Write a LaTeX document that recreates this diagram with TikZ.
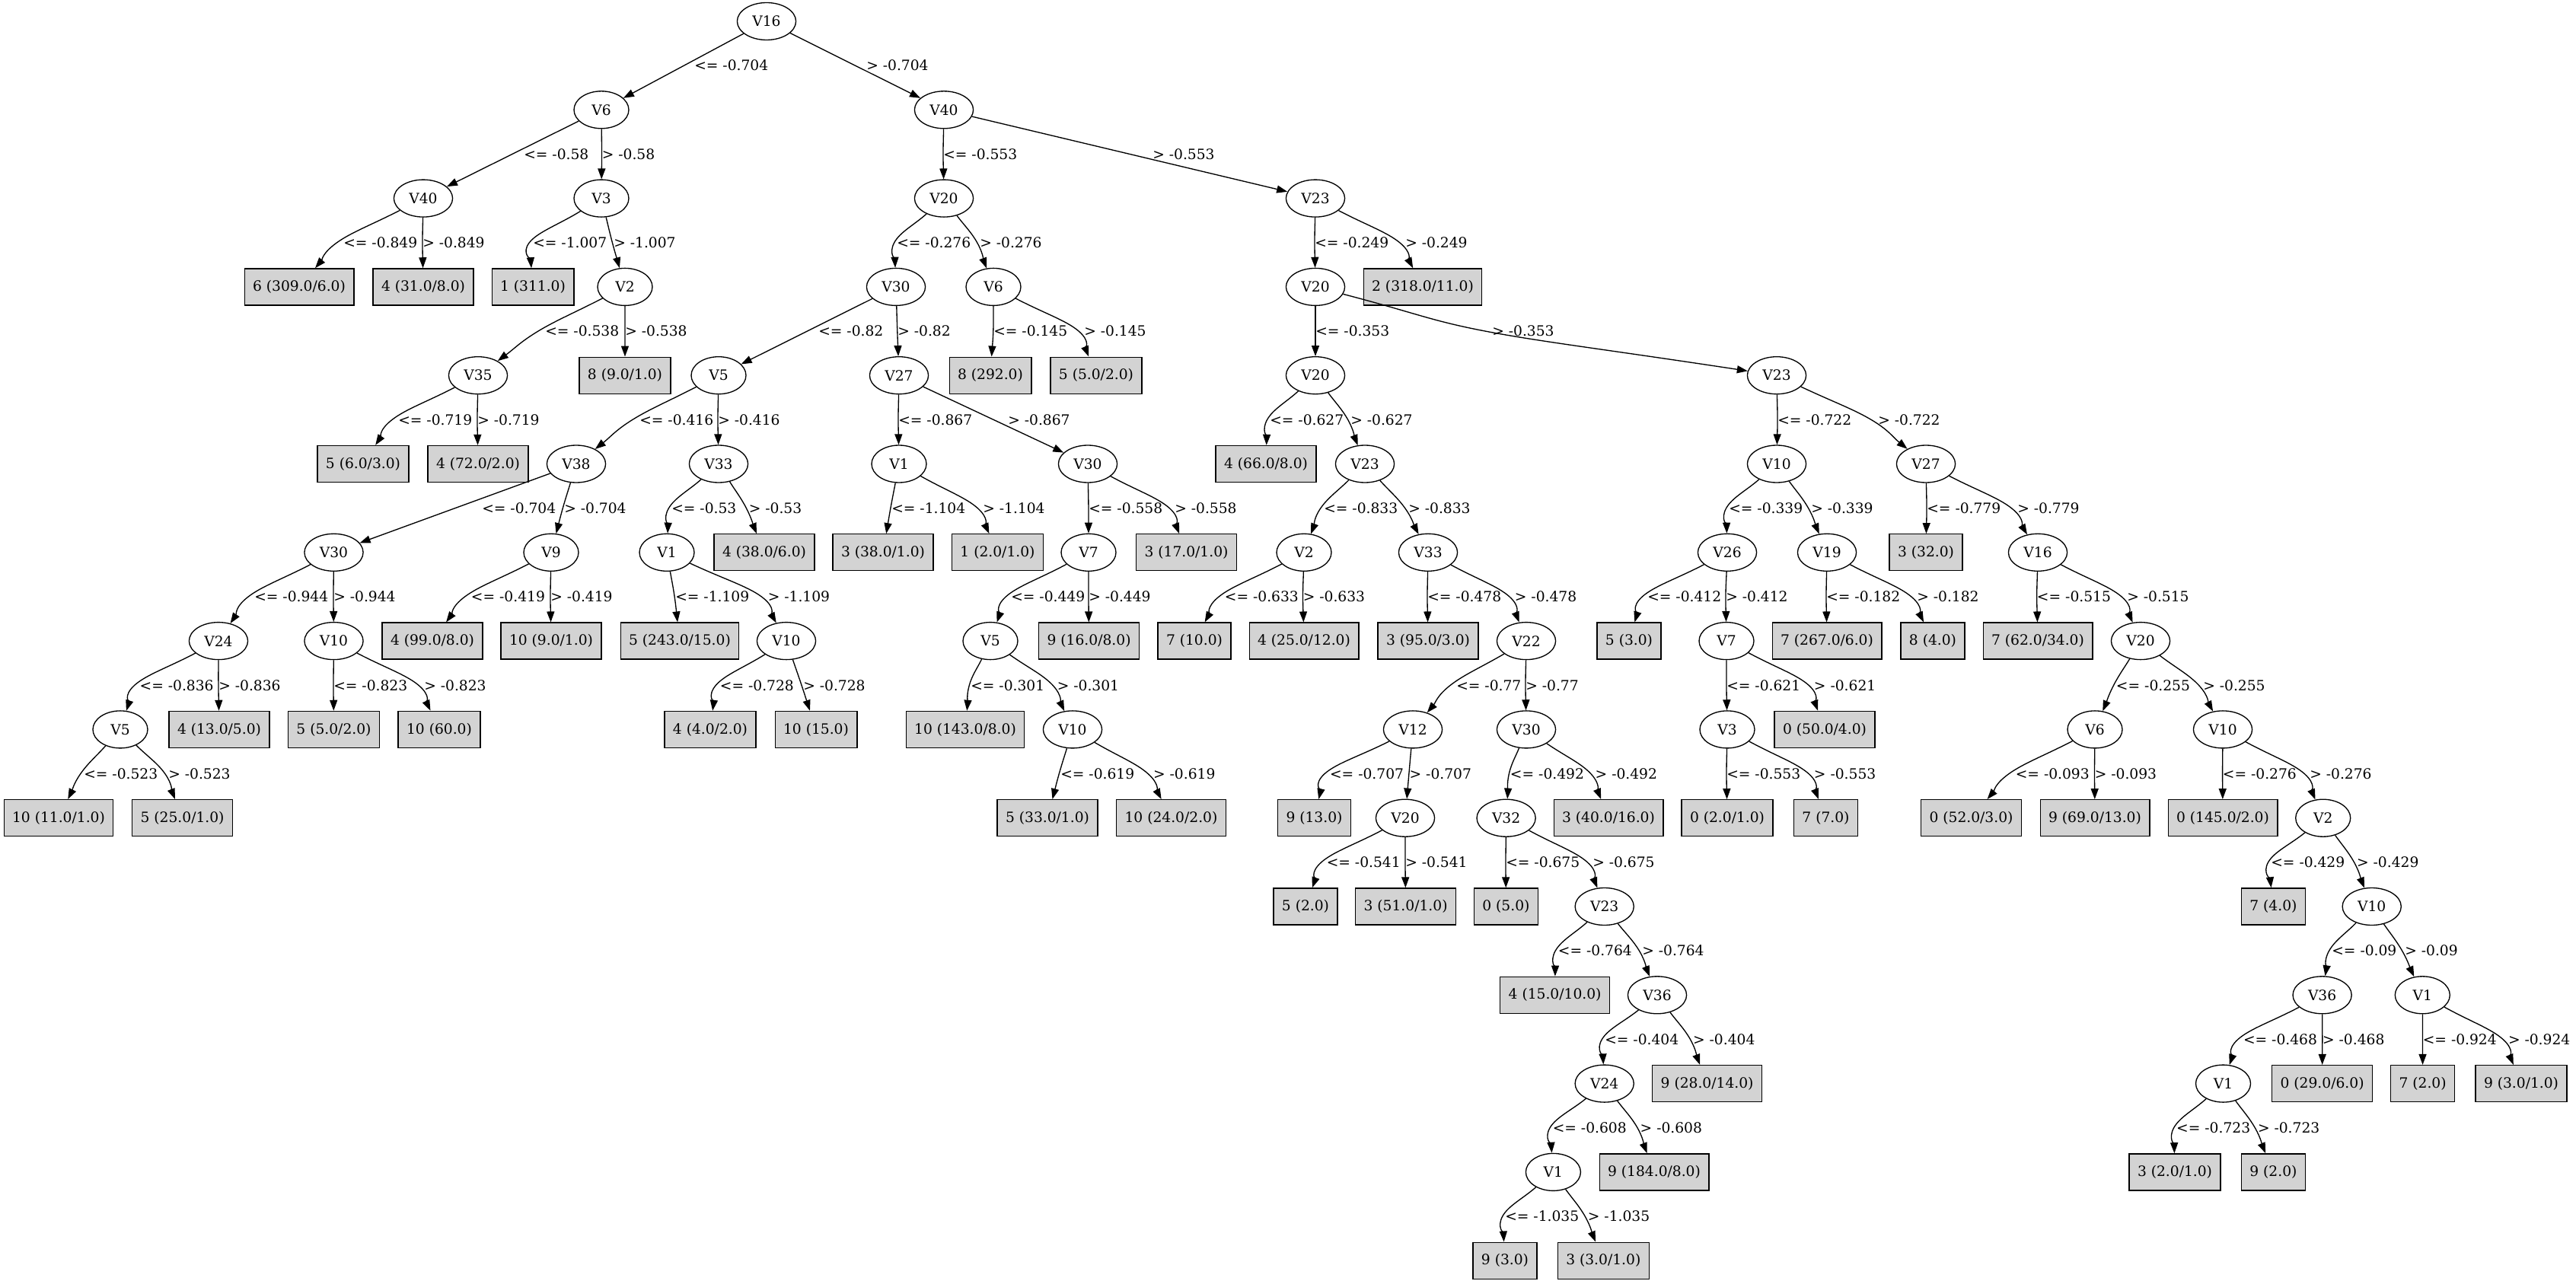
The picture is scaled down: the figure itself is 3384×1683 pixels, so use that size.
\documentclass[tikz,border=0pt]{standalone}
\usepackage{fontspec}
\setmainfont{DejaVu Serif}
\usetikzlibrary{shapes.geometric,arrows.meta,calc}
\definecolor{leafgray}{RGB}{211,211,211}

% curved branch: passes just left of its condition label, placed on the middle rank
% #1 parent, #2 child, #3 label x, #4 parent rank, #5 condition text
\newcommand\treebranch[5]{%
  \path let \p1=(#1), \p2=(#2),
    \n1={min(1.5+0.0516*abs(\x2-\x1),8.25)} in
    ({#3*0.75pt-\n1},{-(86.15+116.3*#4)*0.75pt}) coordinate (m);
  \draw[branch] (#1) .. controls ($(#1)!0.6!(m)$) and ($(m)-0.12*(#2)+0.12*(#1)$) .. (m)
    .. controls ($(m)+0.12*(#2)-0.12*(#1)$) and ($(#2)!0.6!(m)$) .. (#2);
  \node[cutlabel] at ({#3*0.75pt-1.5pt},{-(86.15+116.3*#4)*0.75pt}) {#5};
}
% straight branch with its condition label
\newcommand\treeline[5]{%
  \draw[branch] (#1) -- (#2);
  \node[cutlabel] at ({#3*0.75pt-1.5pt},{-(86.15+116.3*#4)*0.75pt}) {#5};
}

\begin{document}
\begin{tikzpicture}[x=0.75pt,y=-0.75pt,
  splitnode/.style={ellipse, draw, line width=1pt, fill=white,
    minimum width=54pt, minimum height=36.75pt, inner xsep=6.5pt, inner ysep=1pt,
    font=\fontsize{14}{16}\selectfont},
  leafnode/.style={rectangle, draw, line width=1pt, fill=leafgray,
    minimum height=36pt, inner xsep=8.2pt, inner ysep=1pt,
    font=\fontsize{14}{16}\selectfont},
  branch/.style={draw, line width=1pt, -{Triangle[length=10.5pt,width=7.5pt]}},
  cutlabel/.style={anchor=west, inner sep=0pt, font=\fontsize{14}{16}\selectfont}]

\fill[white] (0,0) rectangle (3384,1683);
\useasboundingbox (0,0) rectangle (3384,1683);

% ---- split nodes ----
\node[splitnode] (n0) at (1007,28) {V16};
\node[splitnode] (n1) at (790,144.3) {V6};
\node[splitnode] (n2) at (1240,144.3) {V40};
\node[splitnode] (n3) at (556,260.6) {V40};
\node[splitnode] (n4) at (790,260.6) {V3};
\node[splitnode] (n5) at (1240,260.6) {V20};
\node[splitnode] (n6) at (1728,260.6) {V23};
\node[splitnode] (n7) at (821,376.9) {V2};
\node[splitnode] (n8) at (1177,376.9) {V30};
\node[splitnode] (n9) at (1305,376.9) {V6};
\node[splitnode] (n10) at (1728,376.9) {V20};
\node[splitnode] (n11) at (628,493.2) {V35};
\node[splitnode] (n12) at (944,493.2) {V5};
\node[splitnode] (n13) at (1181,493.2) {V27};
\node[splitnode] (n14) at (1728,493.2) {V20};
\node[splitnode] (n15) at (2334,493.2) {V23};
\node[splitnode] (n16) at (757,609.5) {V38};
\node[splitnode] (n17) at (944,609.5) {V33};
\node[splitnode] (n18) at (1181,609.5) {V1};
\node[splitnode] (n19) at (1429,609.5) {V30};
\node[splitnode] (n20) at (1793,609.5) {V23};
\node[splitnode] (n21) at (2334,609.5) {V10};
\node[splitnode] (n22) at (2530,609.5) {V27};
\node[splitnode] (n23) at (438.5,725.8) {V30};
\node[splitnode] (n24) at (724,725.8) {V9};
\node[splitnode] (n25) at (876,725.8) {V1};
\node[splitnode] (n26) at (1430,725.8) {V7};
\node[splitnode] (n27) at (1713,725.8) {V2};
\node[splitnode] (n28) at (1876,725.8) {V33};
\node[splitnode] (n29) at (2269,725.8) {V26};
\node[splitnode] (n30) at (2400,725.8) {V19};
\node[splitnode] (n31) at (2677,725.8) {V16};
\node[splitnode] (n32) at (287,842.1) {V24};
\node[splitnode] (n33) at (438.5,842.1) {V10};
\node[splitnode] (n34) at (1033,842.1) {V10};
\node[splitnode] (n35) at (1301,842.1) {V5};
\node[splitnode] (n36) at (2005,842.1) {V22};
\node[splitnode] (n37) at (2268,842.1) {V7};
\node[splitnode] (n38) at (2812,842.1) {V20};
\node[splitnode] (n39) at (158,958.4) {V5};
\node[splitnode] (n40) at (1409,958.4) {V10};
\node[splitnode] (n41) at (1856,958.4) {V12};
\node[splitnode] (n42) at (2005,958.4) {V30};
\node[splitnode] (n43) at (2269,958.4) {V3};
\node[splitnode] (n44) at (2752,958.4) {V6};
\node[splitnode] (n45) at (2920,958.4) {V10};
\node[splitnode] (n46) at (1846,1074.7) {V20};
\node[splitnode] (n47) at (1978.6,1074.7) {V32};
\node[splitnode] (n48) at (3051.7,1074.7) {V2};
\node[splitnode] (n49) at (2107.7,1191) {V23};
\node[splitnode] (n50) at (3115.7,1191) {V10};
\node[splitnode] (n51) at (2177,1307.3) {V36};
\node[splitnode] (n52) at (3050.6,1307.3) {V36};
\node[splitnode] (n53) at (3182.3,1307.3) {V1};
\node[splitnode] (n54) at (2107.7,1423.6) {V24};
\node[splitnode] (n55) at (2920.5,1423.6) {V1};
\node[splitnode] (n56) at (2040.4,1539.9) {V1};

% ---- leaves ----
\node[leafnode] (l1) at (393,376.9) {6 (309.0/6.0)};
\node[leafnode] (l2) at (556,376.9) {4 (31.0/8.0)};
\node[leafnode] (l3) at (700,376.9) {1 (311.0)};
\node[leafnode] (l4) at (1869,376.9) {2 (318.0/11.0)};
\node[leafnode] (l5) at (821,493.2) {8 (9.0/1.0)};
\node[leafnode] (l6) at (1301,493.2) {8 (292.0)};
\node[leafnode] (l7) at (1440,493.2) {5 (5.0/2.0)};
\node[leafnode] (l8) at (477,609.5) {5 (6.0/3.0)};
\node[leafnode] (l9) at (628,609.5) {4 (72.0/2.0)};
\node[leafnode] (l10) at (1663,609.5) {4 (66.0/8.0)};
\node[leafnode] (l11) at (1004,725.8) {4 (38.0/6.0)};
\node[leafnode] (l12) at (1160,725.8) {3 (38.0/1.0)};
\node[leafnode] (l13) at (1310.5,725.8) {1 (2.0/1.0)};
\node[leafnode] (l14) at (1558.5,725.8) {3 (17.0/1.0)};
\node[leafnode] (l15) at (2530,725.8) {3 (32.0)};
\node[leafnode] (l16) at (568,842.1) {4 (99.0/8.0)};
\node[leafnode] (l17) at (724,842.1) {10 (9.0/1.0)};
\node[leafnode] (l18) at (893,842.1) {5 (243.0/15.0)};
\node[leafnode] (l19) at (1430.6,842.1) {9 (16.0/8.0)};
\node[leafnode] (l20) at (1569,842.1) {7 (10.0)};
\node[leafnode] (l21) at (1713,842.1) {4 (25.0/12.0)};
\node[leafnode] (l22) at (1876,842.1) {3 (95.0/3.0)};
\node[leafnode] (l23) at (2140,842.1) {5 (3.0)};
\node[leafnode] (l24) at (2400,842.1) {7 (267.0/6.0)};
\node[leafnode] (l25) at (2539,842.1) {8 (4.0)};
\node[leafnode] (l26) at (2677,842.1) {7 (62.0/34.0)};
\node[leafnode] (l27) at (288,958.4) {4 (13.0/5.0)};
\node[leafnode] (l28) at (438.5,958.4) {5 (5.0/2.0)};
\node[leafnode] (l29) at (577,958.4) {10 (60.0)};
\node[leafnode] (l30) at (933,958.4) {4 (4.0/2.0)};
\node[leafnode] (l31) at (1072,958.4) {10 (15.0)};
\node[leafnode] (l32) at (1268,958.4) {10 (143.0/8.0)};
\node[leafnode] (l33) at (2397,958.4) {0 (50.0/4.0)};
\node[leafnode] (l34) at (77,1074.7) {10 (11.0/1.0)};
\node[leafnode] (l35) at (239.6,1074.7) {5 (25.0/1.0)};
\node[leafnode] (l36) at (1376,1074.7) {5 (33.0/1.0)};
\node[leafnode] (l37) at (1538.5,1074.7) {10 (24.0/2.0)};
\node[leafnode] (l38) at (1726.5,1074.7) {9 (13.0)};
\node[leafnode] (l39) at (2113,1074.7) {3 (40.0/16.0)};
\node[leafnode] (l40) at (2269,1074.7) {0 (2.0/1.0)};
\node[leafnode] (l41) at (2398.5,1074.7) {7 (7.0)};
\node[leafnode] (l42) at (2589.5,1074.7) {0 (52.0/3.0)};
\node[leafnode] (l43) at (2752,1074.7) {9 (69.0/13.0)};
\node[leafnode] (l44) at (2920,1074.7) {0 (145.0/2.0)};
\node[leafnode] (l45) at (1715,1191) {5 (2.0)};
\node[leafnode] (l46) at (1846.6,1191) {3 (51.0/1.0)};
\node[leafnode] (l47) at (1978.4,1191) {0 (5.0)};
\node[leafnode] (l48) at (2986.4,1191) {7 (4.0)};
\node[leafnode] (l49) at (2042.6,1307.3) {4 (15.0/10.0)};
\node[leafnode] (l50) at (2242.6,1423.6) {9 (28.0/14.0)};
\node[leafnode] (l51) at (3050.6,1423.6) {0 (29.0/6.0)};
\node[leafnode] (l52) at (3182.6,1423.6) {7 (2.0)};
\node[leafnode] (l53) at (3312,1423.6) {9 (3.0/1.0)};
\node[leafnode] (l54) at (2173,1539.9) {9 (184.0/8.0)};
\node[leafnode] (l55) at (2857,1539.9) {3 (2.0/1.0)};
\node[leafnode] (l56) at (2986.4,1539.9) {9 (2.0)};
\node[leafnode] (l57) at (1977,1656.2) {9 (3.0)};
\node[leafnode] (l58) at (2106.3,1656.2) {3 (3.0/1.0)};

% ---- branches ----
\treeline{n0}{n1}{914}{0}{<= -0.704}
\treeline{n0}{n2}{1140}{0}{> -0.704}
\treeline{n1}{n3}{690}{1}{<= -0.58}
\treebranch{n1}{n4}{792.5}{1}{> -0.58}
\treebranch{n2}{n5}{1241}{1}{<= -0.553}
\treeline{n2}{n6}{1516}{1}{> -0.553}
\treebranch{n3}{l1}{453}{2}{<= -0.849}
\treebranch{n3}{l2}{557}{2}{> -0.849}
\treebranch{n4}{l3}{702}{2}{<= -1.007}
\treebranch{n4}{n7}{808}{2}{> -1.007}
\treebranch{n5}{n8}{1180}{2}{<= -0.276}
\treebranch{n5}{n9}{1289}{2}{> -0.276}
\treebranch{n6}{n10}{1729}{2}{<= -0.249}
\treebranch{n6}{l4}{1848}{2}{> -0.249}
\treebranch{n7}{n11}{718}{3}{<= -0.538}
\treebranch{n7}{l5}{823}{3}{> -0.538}
\treeline{n8}{n12}{1077}{3}{<= -0.82}
\treebranch{n8}{n13}{1181}{3}{> -0.82}
\treebranch{n9}{l6}{1307}{3}{<= -0.145}
\treebranch{n9}{l7}{1426}{3}{> -0.145}
\treebranch{n10}{n14}{1730}{3}{<= -0.353}
\treebranch{n10}{n15}{1962}{3}{> -0.353}
\treebranch{n11}{l8}{525}{4}{<= -0.719}
\treebranch{n11}{l9}{629}{4}{> -0.719}
\treebranch{n12}{n16}{842}{4}{<= -0.416}
\treebranch{n12}{n17}{945}{4}{> -0.416}
\treebranch{n13}{n18}{1182}{4}{<= -0.867}
\treeline{n13}{n19}{1326}{4}{> -0.867}
\treebranch{n14}{l10}{1670}{4}{<= -0.627}
\treebranch{n14}{n20}{1776}{4}{> -0.627}
\treebranch{n15}{n21}{2337}{4}{<= -0.722}
\treebranch{n15}{n22}{2469}{4}{> -0.722}
\treeline{n16}{n23}{635}{5}{<= -0.704}
\treebranch{n16}{n24}{743}{5}{> -0.704}
\treebranch{n17}{n25}{884}{5}{<= -0.53}
\treebranch{n17}{l11}{985.5}{5}{> -0.53}
\treebranch{n18}{l12}{1173}{5}{<= -1.104}
\treebranch{n18}{l13}{1293}{5}{> -1.104}
\treebranch{n19}{n26}{1432}{5}{<= -0.558}
\treebranch{n19}{l14}{1545}{5}{> -0.558}
\treebranch{n20}{n27}{1741}{5}{<= -0.833}
\treebranch{n20}{n28}{1852}{5}{> -0.833}
\treebranch{n21}{n29}{2273}{5}{<= -0.339}
\treebranch{n21}{n30}{2381}{5}{> -0.339}
\treebranch{n22}{l15}{2533}{5}{<= -0.779}
\treebranch{n22}{n31}{2652}{5}{> -0.779}
\treebranch{n23}{n32}{336}{6}{<= -0.944}
\treebranch{n23}{n33}{440}{6}{> -0.944}
\treebranch{n24}{l16}{620.7}{6}{<= -0.419}
\treebranch{n24}{l17}{725}{6}{> -0.419}
\treebranch{n25}{l18}{889}{6}{<= -1.109}
\treebranch{n25}{n34}{1010.5}{6}{> -1.109}
\treebranch{n26}{n35}{1330}{6}{<= -0.449}
\treebranch{n26}{l19}{1432}{6}{> -0.449}
\treebranch{n27}{l20}{1610.6}{6}{<= -0.633}
\treebranch{n27}{l21}{1713.5}{6}{> -0.633}
\treebranch{n28}{l22}{1877}{6}{<= -0.478}
\treebranch{n28}{n36}{1991.6}{6}{> -0.478}
\treebranch{n29}{l23}{2166}{6}{<= -0.412}
\treebranch{n29}{n37}{2269}{6}{> -0.412}
\treebranch{n30}{l24}{2401}{6}{<= -0.182}
\treebranch{n30}{l25}{2520}{6}{> -0.182}
\treebranch{n31}{l26}{2677.7}{6}{<= -0.515}
\treebranch{n31}{n38}{2796}{6}{> -0.515}
\treebranch{n32}{n39}{185.4}{7}{<= -0.836}
\treebranch{n32}{l27}{289}{7}{> -0.836}
\treebranch{n33}{l28}{440}{7}{<= -0.823}
\treebranch{n33}{l29}{559}{7}{> -0.823}
\treebranch{n34}{l30}{947.6}{7}{<= -0.728}
\treebranch{n34}{l31}{1057}{7}{> -0.728}
\treebranch{n35}{l32}{1277}{7}{<= -0.301}
\treebranch{n35}{n40}{1390.5}{7}{> -0.301}
\treebranch{n36}{n41}{1915}{7}{<= -0.77}
\treebranch{n36}{n42}{2006}{7}{> -0.77}
\treebranch{n37}{n43}{2270}{7}{<= -0.621}
\treebranch{n37}{l33}{2384.7}{7}{> -0.621}
\treebranch{n38}{n44}{2781.7}{7}{<= -0.255}
\treebranch{n38}{n45}{2896}{7}{> -0.255}
\treebranch{n39}{l34}{112}{8}{<= -0.523}
\treebranch{n39}{l35}{223}{8}{> -0.523}
\treebranch{n40}{l36}{1395}{8}{<= -0.619}
\treebranch{n40}{l37}{1516.8}{8}{> -0.619}
\treebranch{n41}{l38}{1748.8}{8}{<= -0.707}
\treebranch{n41}{n46}{1853.4}{8}{> -0.707}
\treebranch{n42}{n47}{1985.7}{8}{<= -0.492}
\treebranch{n42}{l39}{2097.4}{8}{> -0.492}
\treebranch{n43}{l40}{2270}{8}{<= -0.553}
\treebranch{n43}{l41}{2384.7}{8}{> -0.553}
\treebranch{n44}{l42}{2649.5}{8}{<= -0.093}
\treebranch{n44}{l43}{2753.5}{8}{> -0.093}
\treebranch{n45}{l44}{2921.6}{8}{<= -0.276}
\treebranch{n45}{n48}{3036}{8}{> -0.276}
\treebranch{n46}{l45}{1744.5}{9}{<= -0.541}
\treebranch{n46}{l46}{1848}{9}{> -0.541}
\treebranch{n47}{l47}{1980}{9}{<= -0.675}
\treebranch{n47}{n49}{2094}{9}{> -0.675}
\treebranch{n48}{l48}{2985}{9}{<= -0.429}
\treebranch{n48}{n50}{3097.8}{9}{> -0.429}
\treebranch{n49}{l49}{2048.6}{10}{<= -0.764}
\treebranch{n49}{n51}{2159}{10}{> -0.764}
\treebranch{n50}{n52}{3065}{10}{<= -0.09}
\treebranch{n50}{n53}{3161}{10}{> -0.09}
\treebranch{n51}{n54}{2110}{11}{<= -0.404}
\treebranch{n51}{l50}{2225.8}{11}{> -0.404}
\treebranch{n52}{n55}{2948.7}{11}{<= -0.468}
\treebranch{n52}{l51}{3052.8}{11}{> -0.468}
\treebranch{n53}{l52}{3184.5}{11}{<= -0.924}
\treebranch{n53}{l53}{3296.7}{11}{> -0.924}
\treebranch{n54}{n56}{2041.5}{12}{<= -0.608}
\treebranch{n54}{l54}{2156.4}{12}{> -0.608}
\treebranch{n55}{l55}{2860.9}{12}{<= -0.723}
\treebranch{n55}{l56}{2967.7}{12}{> -0.723}
\treebranch{n56}{l57}{1979}{13}{<= -1.035}
\treebranch{n56}{l58}{2087.6}{13}{> -1.035}

\end{tikzpicture}
\end{document}
